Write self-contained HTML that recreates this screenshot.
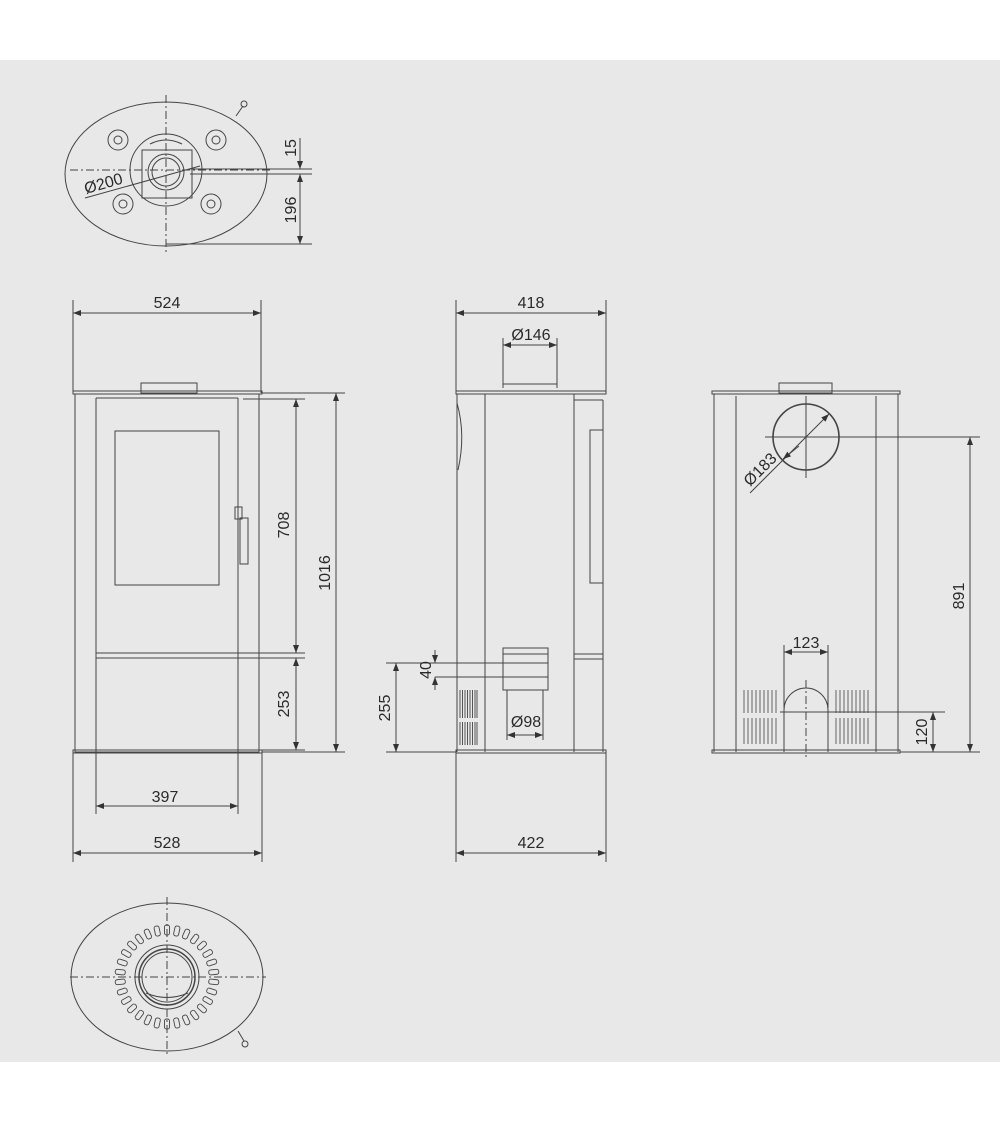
<!DOCTYPE html>
<html><head><meta charset="utf-8"><style>
html,body{margin:0;padding:0;background:#fff;}
svg{display:block}
text{font-family:"Liberation Sans",sans-serif;font-size:16px;fill:#2a2a2a}
</style></head><body>
<svg width="1000" height="1125" viewBox="0 0 1000 1125" xmlns="http://www.w3.org/2000/svg">
<defs>
<marker id="a" markerWidth="8" markerHeight="6" refX="8" refY="3" orient="auto-start-reverse" markerUnits="userSpaceOnUse"><path d="M0,0 L8,3 L0,6 z" fill="#333"/></marker>
</defs>
<rect x="0" y="60" width="1000" height="1002" fill="#e8e8e8"/>
<g fill="none" stroke="#444" stroke-width="1">
<!-- TOP VIEW -->
<ellipse cx="166" cy="174" rx="101" ry="72"/>
<line x1="236" y1="116" x2="243" y2="106"/><circle cx="244" cy="104" r="3"/>
<line x1="166" y1="95" x2="166" y2="254" stroke-dasharray="8,3,2,3"/>
<line x1="70" y1="170" x2="270" y2="170" stroke-dasharray="8,3,2,3"/>
<circle cx="166" cy="170" r="36"/>
<rect x="142" y="150" width="50" height="48"/>
<circle cx="166" cy="172" r="18"/><circle cx="166" cy="172" r="14"/>
<path d="M150,144 Q166,136 182,144"/>
<circle cx="118" cy="140" r="10"/><circle cx="118" cy="140" r="4"/>
<circle cx="216" cy="140" r="10"/><circle cx="216" cy="140" r="4"/>
<circle cx="123" cy="204" r="10"/><circle cx="123" cy="204" r="4"/>
<circle cx="211" cy="204" r="10"/><circle cx="211" cy="204" r="4"/>
<line x1="85" y1="198" x2="200" y2="166"/>
<line x1="190" y1="169" x2="312" y2="169"/><line x1="190" y1="174" x2="312" y2="174"/>
<line x1="166" y1="244" x2="312" y2="244"/>
<line x1="300" y1="138" x2="300" y2="169" marker-end="url(#a)"/>
<line x1="300" y1="174" x2="300" y2="244" marker-start="url(#a)" marker-end="url(#a)"/>
<!-- FRONT VIEW -->
<line x1="73" y1="300" x2="73" y2="393"/><line x1="261" y1="300" x2="261" y2="393"/>
<line x1="73" y1="313" x2="261" y2="313" marker-start="url(#a)" marker-end="url(#a)"/>
<rect x="141" y="383" width="56" height="10"/>
<rect x="73" y="391" width="189" height="3"/>
<rect x="75" y="394" width="184" height="358"/>
<line x1="96" y1="398" x2="96" y2="752"/><line x1="238" y1="398" x2="238" y2="752"/>
<line x1="96" y1="398" x2="238" y2="398"/>
<rect x="115" y="431" width="104" height="154"/>
<rect x="235" y="507" width="7" height="12"/><rect x="240" y="518" width="8" height="46"/>
<line x1="96" y1="653" x2="305" y2="653"/><line x1="96" y1="658" x2="305" y2="658"/>
<line x1="243" y1="399" x2="305" y2="399"/><line x1="262" y1="393" x2="345" y2="393"/>
<line x1="262" y1="750" x2="305" y2="750"/><line x1="262" y1="752" x2="345" y2="752"/>
<line x1="296" y1="399" x2="296" y2="653" marker-start="url(#a)" marker-end="url(#a)"/>
<line x1="296" y1="658" x2="296" y2="750" marker-start="url(#a)" marker-end="url(#a)"/>
<line x1="336" y1="393" x2="336" y2="752" marker-start="url(#a)" marker-end="url(#a)"/>
<rect x="73" y="750" width="189" height="3"/>
<line x1="73" y1="753" x2="73" y2="862"/><line x1="262" y1="753" x2="262" y2="862"/>
<line x1="96" y1="753" x2="96" y2="814"/><line x1="238" y1="753" x2="238" y2="814"/>
<line x1="96" y1="806" x2="238" y2="806" marker-start="url(#a)" marker-end="url(#a)"/>
<line x1="73" y1="853" x2="262" y2="853" marker-start="url(#a)" marker-end="url(#a)"/>
<!-- SIDE VIEW -->
<line x1="456" y1="300" x2="456" y2="391"/><line x1="606" y1="300" x2="606" y2="391"/>
<line x1="456" y1="313" x2="606" y2="313" marker-start="url(#a)" marker-end="url(#a)"/>
<line x1="503" y1="338" x2="503" y2="388"/><line x1="557" y1="338" x2="557" y2="388"/>
<line x1="503" y1="345" x2="557" y2="345" marker-start="url(#a)" marker-end="url(#a)"/>
<line x1="503" y1="384" x2="557" y2="384"/>
<rect x="456" y="391" width="150" height="3"/>
<line x1="457" y1="394" x2="457" y2="752"/><line x1="485" y1="394" x2="485" y2="752"/>
<line x1="574" y1="394" x2="574" y2="752"/><line x1="603" y1="400" x2="603" y2="752"/>
<line x1="574" y1="400" x2="603" y2="400"/>
<path d="M457,403 Q466,435 458,470"/>
<path d="M603,430 H590 V583 H603"/>
<line x1="574" y1="654" x2="603" y2="654"/><line x1="574" y1="659" x2="603" y2="659"/>
<rect x="503" y="648" width="45" height="42"/><line x1="503" y1="654" x2="548" y2="654"/>
<line x1="435" y1="663" x2="548" y2="663"/><line x1="435" y1="677" x2="548" y2="677"/>
<line x1="435" y1="650" x2="435" y2="663" marker-end="url(#a)"/>
<line x1="435" y1="690" x2="435" y2="677" marker-end="url(#a)"/>
<line x1="386" y1="663" x2="435" y2="663"/><line x1="386" y1="752" x2="456" y2="752"/>
<line x1="396" y1="663" x2="396" y2="752" marker-start="url(#a)" marker-end="url(#a)"/>
<g stroke-width="0.9"><path d="M460,690v28M462.5,690v28M465,690v28M467.5,690v28M470,690v28M472.5,690v28M475,690v28M477,690v28M460,722v23M462.5,722v23M465,722v23M467.5,722v23M470,722v23M472.5,722v23M475,722v23M477,722v23"/></g>
<line x1="507" y1="690" x2="507" y2="740"/><line x1="543" y1="690" x2="543" y2="740"/>
<line x1="507" y1="735" x2="543" y2="735" marker-start="url(#a)" marker-end="url(#a)"/>
<rect x="456" y="750" width="150" height="3"/>
<line x1="456" y1="753" x2="456" y2="862"/><line x1="606" y1="753" x2="606" y2="862"/>
<line x1="456" y1="853" x2="606" y2="853" marker-start="url(#a)" marker-end="url(#a)"/>
<!-- BACK VIEW -->
<rect x="779" y="383" width="53" height="10"/>
<rect x="712" y="391" width="188" height="3"/>
<line x1="714" y1="394" x2="714" y2="752"/><line x1="898" y1="394" x2="898" y2="752"/>
<line x1="736" y1="396" x2="736" y2="752"/><line x1="876" y1="396" x2="876" y2="752"/>
<circle cx="806" cy="437" r="33" stroke-width="1.6"/>
<line x1="806" y1="396" x2="806" y2="478"/><line x1="765" y1="437" x2="980" y2="437"/>
<line x1="750" y1="493" x2="829" y2="414" marker-end="url(#a)"/>
<line x1="799" y1="446" x2="783" y2="459" marker-end="url(#a)"/>
<path d="M784,752 V710 A22,22 0 0 1 828,710 V752"/>
<line x1="784" y1="645" x2="784" y2="708"/><line x1="828" y1="645" x2="828" y2="708"/>
<line x1="784" y1="652" x2="828" y2="652" marker-start="url(#a)" marker-end="url(#a)"/>
<line x1="806" y1="680" x2="806" y2="760" stroke-dasharray="8,3,2,3"/>
<line x1="780" y1="712" x2="945" y2="712"/>
<line x1="933" y1="712" x2="933" y2="752" marker-start="url(#a)" marker-end="url(#a)"/>
<line x1="970" y1="437" x2="970" y2="752" marker-start="url(#a)" marker-end="url(#a)"/>
<g stroke-width="0.8"><path d="M744,690v23M748,690v23M752,690v23M756,690v23M760,690v23M764,690v23M768,690v23M772,690v23M776,690v23M744,718v26M748,718v26M752,718v26M756,718v26M760,718v26M764,718v26M768,718v26M772,718v26M776,718v26M836,690v23M840,690v23M844,690v23M848,690v23M852,690v23M856,690v23M860,690v23M864,690v23M868,690v23M836,718v26M840,718v26M844,718v26M848,718v26M852,718v26M856,718v26M860,718v26M864,718v26M868,718v26"/></g>
<rect x="712" y="750" width="188" height="3"/><line x1="900" y1="752" x2="980" y2="752"/>
<!-- BOTTOM VIEW -->
<ellipse cx="167" cy="977" rx="96" ry="74"/>
<line x1="238" y1="1031" x2="244" y2="1041"/><circle cx="245" cy="1044" r="3"/>
<line x1="167" y1="897" x2="167" y2="1056" stroke-dasharray="8,3,2,3"/>
<line x1="70" y1="977" x2="266" y2="977" stroke-dasharray="8,3,2,3"/>
<circle cx="167" cy="977" r="32"/><circle cx="167" cy="977" r="28" stroke-width="1.5"/><circle cx="167" cy="977" r="25"/>
<path d="M146,993 Q167,1002 188,993"/>
</g>
<g fill="none" stroke="#444" stroke-width="0.9" transform="translate(167,977)">
<rect x="-2.5" y="-52" width="5" height="10" rx="2" transform="rotate(0)"/>
<rect x="-2.5" y="-52" width="5" height="10" rx="2" transform="rotate(12)"/>
<rect x="-2.5" y="-52" width="5" height="10" rx="2" transform="rotate(24)"/>
<rect x="-2.5" y="-52" width="5" height="10" rx="2" transform="rotate(36)"/>
<rect x="-2.5" y="-52" width="5" height="10" rx="2" transform="rotate(48)"/>
<rect x="-2.5" y="-52" width="5" height="10" rx="2" transform="rotate(60)"/>
<rect x="-2.5" y="-52" width="5" height="10" rx="2" transform="rotate(72)"/>
<rect x="-2.5" y="-52" width="5" height="10" rx="2" transform="rotate(84)"/>
<rect x="-2.5" y="-52" width="5" height="10" rx="2" transform="rotate(96)"/>
<rect x="-2.5" y="-52" width="5" height="10" rx="2" transform="rotate(108)"/>
<rect x="-2.5" y="-52" width="5" height="10" rx="2" transform="rotate(120)"/>
<rect x="-2.5" y="-52" width="5" height="10" rx="2" transform="rotate(132)"/>
<rect x="-2.5" y="-52" width="5" height="10" rx="2" transform="rotate(144)"/>
<rect x="-2.5" y="-52" width="5" height="10" rx="2" transform="rotate(156)"/>
<rect x="-2.5" y="-52" width="5" height="10" rx="2" transform="rotate(168)"/>
<rect x="-2.5" y="-52" width="5" height="10" rx="2" transform="rotate(180)"/>
<rect x="-2.5" y="-52" width="5" height="10" rx="2" transform="rotate(192)"/>
<rect x="-2.5" y="-52" width="5" height="10" rx="2" transform="rotate(204)"/>
<rect x="-2.5" y="-52" width="5" height="10" rx="2" transform="rotate(216)"/>
<rect x="-2.5" y="-52" width="5" height="10" rx="2" transform="rotate(228)"/>
<rect x="-2.5" y="-52" width="5" height="10" rx="2" transform="rotate(240)"/>
<rect x="-2.5" y="-52" width="5" height="10" rx="2" transform="rotate(252)"/>
<rect x="-2.5" y="-52" width="5" height="10" rx="2" transform="rotate(264)"/>
<rect x="-2.5" y="-52" width="5" height="10" rx="2" transform="rotate(276)"/>
<rect x="-2.5" y="-52" width="5" height="10" rx="2" transform="rotate(288)"/>
<rect x="-2.5" y="-52" width="5" height="10" rx="2" transform="rotate(300)"/>
<rect x="-2.5" y="-52" width="5" height="10" rx="2" transform="rotate(312)"/>
<rect x="-2.5" y="-52" width="5" height="10" rx="2" transform="rotate(324)"/>
<rect x="-2.5" y="-52" width="5" height="10" rx="2" transform="rotate(336)"/>
<rect x="-2.5" y="-52" width="5" height="10" rx="2" transform="rotate(348)"/>
</g>
<!-- TEXT -->
<text x="167" y="308" text-anchor="middle">524</text>
<text x="531" y="308" text-anchor="middle">418</text>
<text x="531" y="340" text-anchor="middle">Ø146</text>
<text x="165" y="802" text-anchor="middle">397</text>
<text x="167" y="848" text-anchor="middle">528</text>
<text x="531" y="848" text-anchor="middle">422</text>
<text x="526" y="727" text-anchor="middle">Ø98</text>
<text x="806" y="648" text-anchor="middle">123</text>
<text transform="translate(86,194) rotate(-16)">Ø200</text>
<text transform="translate(296,148) rotate(-90)" text-anchor="middle">15</text>
<text transform="translate(296,210) rotate(-90)" text-anchor="middle">196</text>
<text transform="translate(289,525) rotate(-90)" text-anchor="middle">708</text>
<text transform="translate(289,704) rotate(-90)" text-anchor="middle">253</text>
<text transform="translate(330,573) rotate(-90)" text-anchor="middle">1016</text>
<text transform="translate(431,670) rotate(-90)" text-anchor="middle">40</text>
<text transform="translate(390,708) rotate(-90)" text-anchor="middle">255</text>
<text transform="translate(927,732) rotate(-90)" text-anchor="middle">120</text>
<text transform="translate(964,596) rotate(-90)" text-anchor="middle">891</text>
<text transform="translate(750,487) rotate(-45)">Ø183</text>
</svg>
</body></html>
